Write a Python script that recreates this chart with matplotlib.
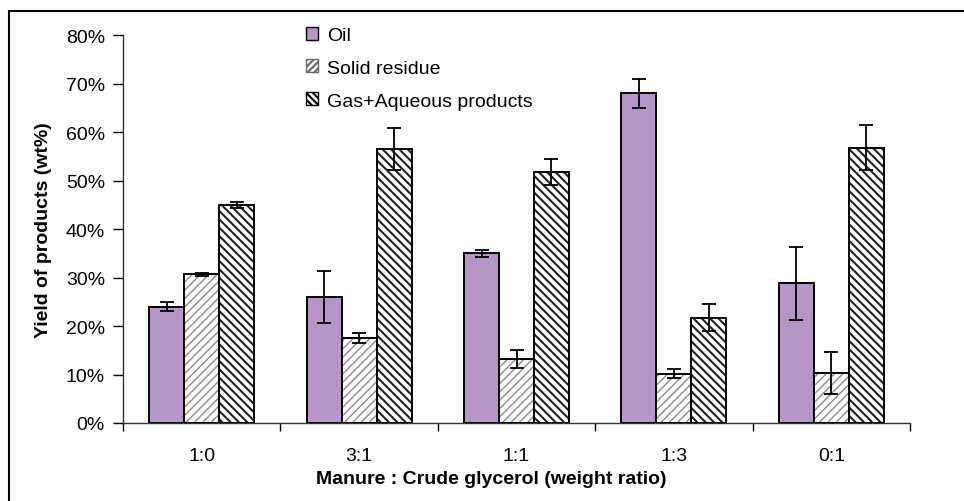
import numpy as np
import matplotlib
matplotlib.use('Agg')
import matplotlib.pyplot as plt
from matplotlib.patches import Rectangle, Patch

plt.rcParams['font.family'] = ['Liberation Sans', 'DejaVu Sans']

ratios = ['1:0', '3:1', '1:1', '1:3', '0:1']
oil = [24.0, 26.0, 35.0, 68.0, 28.8]
oil_err = [0.9, 5.4, 0.7, 3.0, 7.6]
solid = [30.7, 17.5, 13.2, 10.2, 10.3]
solid_err = [0.3, 1.0, 1.9, 1.0, 4.4]
gas = [45.0, 56.5, 51.7, 21.7, 56.8]
gas_err = [0.6, 4.4, 2.7, 2.8, 4.7]

fig = plt.figure(figsize=(9.64, 5.02), dpi=100)
ax = fig.add_axes([0.1276, 0.1554, 0.8164, 0.7726])

# outer frame like the source document
fig.patches.append(Rectangle((9 / 964, -0.1), 1.2, 1 - 12 / 502 + 0.1,
                             transform=fig.transFigure, fill=False,
                             edgecolor='black', linewidth=1.5))

x = np.arange(len(ratios))
w = 0.222
err_kw = dict(ecolor='black', elinewidth=1.3, capsize=5, capthick=1.3)
fs = 14

ax.bar(x - w, oil, w, color='#b497c6', edgecolor='black', linewidth=1.4,
       yerr=oil_err, error_kw=err_kw, zorder=2)

plt.rcParams['hatch.linewidth'] = 1.0
ax.bar(x, solid, w, color='white', edgecolor='#8a8a8a', hatch='////',
       linewidth=0, zorder=2)
ax.bar(x, solid, w, fill=False, edgecolor='black', linewidth=1.4,
       yerr=solid_err, error_kw=err_kw, zorder=3)

plt.rcParams['hatch.linewidth'] = 1.5
ax.bar(x + w, gas, w, color='white', edgecolor='#222222', hatch='\\\\\\\\',
       linewidth=0, zorder=2)
ax.bar(x + w, gas, w, fill=False, edgecolor='black', linewidth=1.4,
       yerr=gas_err, error_kw=err_kw, zorder=3)

ax.set_xlim(-0.5, len(ratios) - 0.5)
ax.set_ylim(0, 80)
ax.set_yticks(np.arange(0, 81, 10))
ax.set_yticklabels([f'{v}%' for v in range(0, 81, 10)])
ax.set_xticks(np.arange(-0.5, len(ratios), 1.0))
ax.set_xticklabels([])
ax.set_xticks(x, minor=True)
ax.set_xticklabels(ratios, minor=True)
ax.tick_params(axis='x', which='minor', length=0, pad=17, labelsize=fs)
ax.tick_params(axis='x', which='major', direction='out', length=6, width=1)
ax.tick_params(axis='y', direction='out', length=7, width=1, labelsize=fs, pad=6)

for s in ['top', 'right']:
    ax.spines[s].set_visible(False)
for s in ['left', 'bottom']:
    ax.spines[s].set_linewidth(1)
    ax.spines[s].set_color('#333333')

ax.set_ylabel('Yield of products (wt%)', fontsize=fs, fontweight='bold', labelpad=10)
ax.set_xlabel('Manure : Crude glycerol (weight ratio)', fontsize=fs,
              fontweight='bold')
ax.xaxis.set_label_coords(0.468, -0.122)

handles = [
    Patch(facecolor='#b497c6', edgecolor='black'),
    Patch(facecolor='white', edgecolor='#666666', hatch='/////'),
    Patch(facecolor='white', edgecolor='black', hatch='\\\\\\\\\\'),
]
ax.legend(handles, ['Oil', 'Solid residue', 'Gas+Aqueous products'],
          loc='upper left', bbox_to_anchor=(0.299, 0.98),
          bbox_transform=fig.transFigure, frameon=False, fontsize=fs,
          handlelength=0.65, handleheight=0.65, handletextpad=0.45,
          labelspacing=0.8)

fig.savefig('out.png', dpi=100)
